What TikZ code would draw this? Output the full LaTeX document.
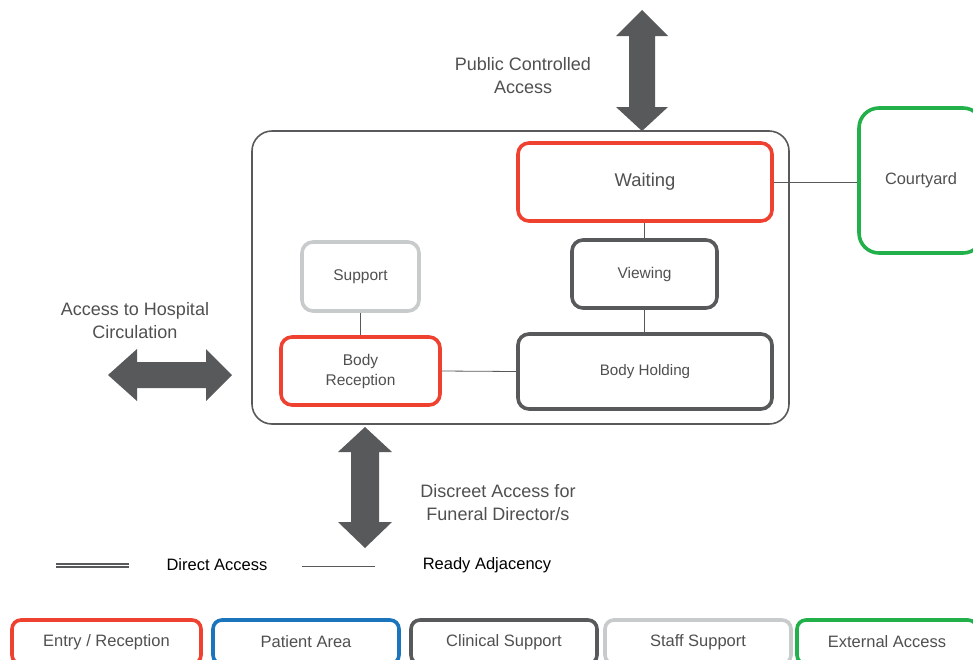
\documentclass[tikz,border=0pt]{standalone}
\usepackage{fontspec}
\setmainfont{Liberation Sans}
\definecolor{cred}{RGB}{239,65,48}
\definecolor{cdark}{RGB}{88,89,91}
\definecolor{clight}{RGB}{199,203,203}
\definecolor{cgreen}{RGB}{34,176,75}
\definecolor{cblue}{RGB}{27,117,188}
\definecolor{ctext}{RGB}{80,80,80}
\begin{document}
\begin{tikzpicture}[x=1pt,y=-1pt,
  room/.style={draw, line width=3.6pt, rounded corners=11pt, inner sep=0pt, text=ctext, font=\fontsize{15.5}{20}\selectfont, align=center},
  legbox/.style={draw, line width=3.6pt, rounded corners=9pt, inner sep=0pt, text=ctext, font=\fontsize{16.5}{20}\selectfont, minimum height=44pt},
  conn/.style={draw=cdark, line width=0.8pt},
  bigarrow/.style={fill=cdark, draw=none},
  lbl/.style={text=ctext, font=\fontsize{18}{23}\selectfont, align=center},
  legtext/.style={text=black, font=\fontsize{16.5}{20}\selectfont}]
\useasboundingbox (0,0) rectangle (973,659);
\fill[white] (0,0) rectangle (973,659);

% container
\node[draw=cdark, line width=1.6pt, rounded corners=20pt, minimum width=537pt, minimum height=293pt, inner sep=0pt] (main) at (520.5,277.5) {};

% rooms
\node[room, draw=cred, minimum width=254pt, minimum height=78pt, font=\fontsize{18.4}{22}\selectfont] (wait) at (645,182) {Waiting};
\node[room, draw=cdark, minimum width=145pt, minimum height=68pt] (view) at (644.5,274) {Viewing};
\node[room, draw=cdark, minimum width=254pt, minimum height=75pt, font=\fontsize{15.2}{20}\selectfont] (hold) at (645,371.5) {Body Holding};
\node[room, draw=clight, minimum width=117pt, minimum height=69pt] (supp) at (360.5,276.5) {Support};
\node[room, draw=cred, minimum width=159pt, minimum height=68pt] (rec) at (360.5,371) {Body\\Reception};
\node[room, draw=cgreen, rounded corners=20pt, minimum width=124pt, minimum height=145pt, font=\fontsize{16.4}{20}\selectfont] (court) at (921,180.5) {Courtyard};

% connectors
\draw[conn] (wait.south -| view.north) -- (view.north);
\draw[conn] (view.south) -- (view.south |- hold.north);
\draw[conn] (supp.south) -- (rec.north);
\draw[conn] (rec.east) -- (hold.west);
\draw[conn] (wait.east) -- (court.west |- wait.east);

% big arrows
\coordinate (ta) at (642,10);
\fill[bigarrow] (ta) -- ++(26,26) -- ++(-13,0) -- ++(0,71) -- ++(13,0) -- ++(-26,24) -- ++(-26,-24) -- ++(13,0) -- ++(0,-71) -- ++(-13,0) -- cycle;
\coordinate (ba) at (365,427);
\fill[bigarrow] (ba) -- ++(27,25) -- ++(-13,0) -- ++(0,70) -- ++(13,0) -- ++(-27,26) -- ++(-27,-26) -- ++(13,0) -- ++(0,-70) -- ++(-13,0) -- cycle;
\coordinate (la) at (108,375);
\fill[bigarrow] (la) -- ++(29,-26) -- ++(0,13) -- ++(69,0) -- ++(0,-13) -- ++(26,26) -- ++(-26,26) -- ++(0,-13) -- ++(-69,0) -- ++(0,13) -- cycle;

% labels
\node[lbl] (pub) at (523,75.5) {Public Controlled\\Access};
\node[lbl] (hosp) at (135,321) {Access to Hospital\\Circulation};
\node[lbl] (disc) at (498,502.5) {Discreet Access for\\Funeral Director/s};

% legend lines
\coordinate (d1) at (56,565.5);
\coordinate (d2) at (129,565.5);
\draw[cdark, line width=4.6pt] (d1) -- (d2);
\draw[white, line width=1.6pt] (d1) -- (d2);
\coordinate (s1) at (302,566);
\coordinate (s2) at (375,566);
\draw[conn] (s1) -- (s2);
\node[legtext] (ldirect) at (217,565) {Direct Access};
\node[legtext] (lready) at (487,565) {Ready Adjacency};

% legend boxes
\node[legbox, draw=cred, minimum width=189pt] (k1) at (106.5,642) {Entry / Reception};
\node[legbox, draw=cblue, minimum width=186pt] (k2) at (306,642) {Patient Area};
\node[legbox, draw=cdark, minimum width=186pt] (k3) at (504,642) {Clinical Support};
\node[legbox, draw=clight, minimum width=186pt] (k4) at (698,642) {Staff Support};
\node[legbox, draw=cgreen, minimum width=180pt] (k5) at (887,642) {External Access};
\end{tikzpicture}
\end{document}
